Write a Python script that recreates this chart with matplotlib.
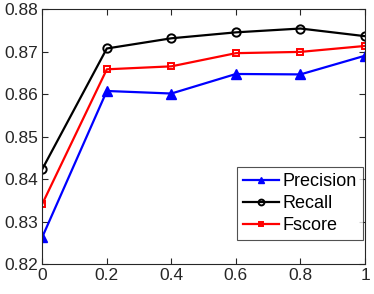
import matplotlib
matplotlib.use("Agg")
import matplotlib.pyplot as plt

# data
x = [0, 0.2, 0.4, 0.6, 0.8, 1.0]
precision = [0.8264, 0.8608, 0.8602, 0.8648, 0.8647, 0.8691]
recall = [0.8424, 0.8708, 0.8732, 0.8746, 0.8755, 0.8737]
fscore = [0.8342, 0.8659, 0.8666, 0.8697, 0.8700, 0.8714]
xticks = [0, 0.2, 0.4, 0.6, 0.8, 1]
yticks = [0.82, 0.83, 0.84, 0.85, 0.86, 0.87, 0.88]

plt.rcParams['font.family'] = ['Liberation Sans', 'DejaVu Sans']

fig = plt.figure(figsize=(3.74, 2.94), dpi=100)
ax = fig.add_axes([0.113, 0.101, 0.863, 0.867])

ax.plot(x, precision, color='blue', lw=1.6, marker='^', ms=7, label='Precision')
ax.plot(x, recall, color='black', lw=1.6, marker='o', ms=6, mfc='none', mew=1.4, label='Recall')
ax.plot(x, fscore, color='red', lw=1.6, marker='s', ms=5, mfc='none', mew=1.4, label='Fscore')

ax.set_xlim(0, 1)
ax.set_ylim(0.82, 0.88)
ax.set_xticks(xticks)
ax.set_xticklabels([f"{t:g}" for t in xticks])
ax.set_yticks(yticks)
ax.set_yticklabels([f"{t:.2f}" for t in yticks])

grey = '#262626'
for s in ax.spines.values():
    s.set_color(grey)
    s.set_linewidth(0.8)
ax.tick_params(direction='in', top=True, right=True, length=4, width=0.8,
               colors=grey, labelsize=12.5, pad=3)

leg = ax.legend(loc='lower right', bbox_to_anchor=(0.993, 0.094), fontsize=13,
                frameon=True, fancybox=False, handlelength=2.0, handletextpad=0.15,
                borderpad=0.35, labelspacing=0.28, borderaxespad=0.0, markerscale=0.7)
leg.get_frame().set_edgecolor(grey)
leg.get_frame().set_linewidth(0.8)

fig.savefig('out.png', dpi=100)
